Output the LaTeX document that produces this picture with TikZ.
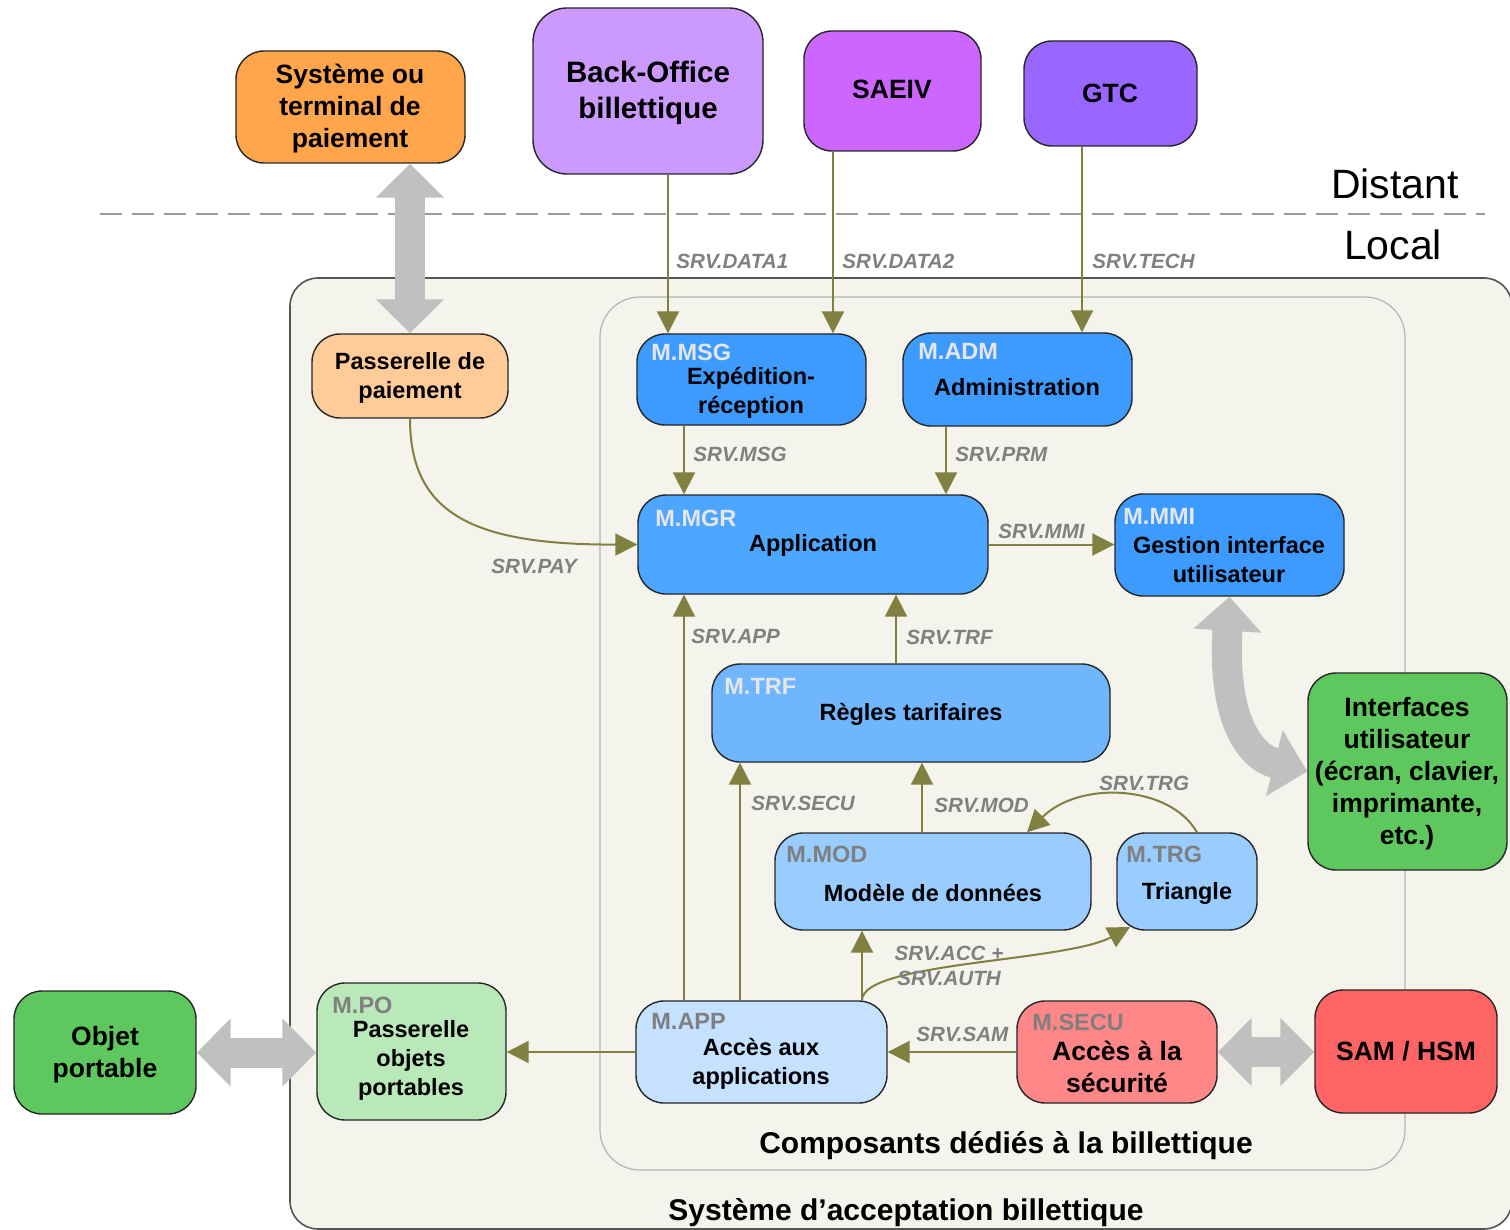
\documentclass[tikz,border=0pt]{standalone}
\usepackage{fontspec}
\setmainfont{Liberation Sans}
\usetikzlibrary{arrows.meta,fit}

\definecolor{cOrange}{HTML}{FFA64D}
\definecolor{cBackOffice}{HTML}{CC99FF}
\definecolor{cSaeiv}{HTML}{CC66FF}
\definecolor{cGtc}{HTML}{9966FF}
\definecolor{cPayGw}{HTML}{FFCC99}
\definecolor{cBlueA}{HTML}{3D9BFF}
\definecolor{cBlueB}{HTML}{4DA6FF}
\definecolor{cBlueC}{HTML}{70B6FF}
\definecolor{cBlueD}{HTML}{99CCFF}
\definecolor{cBlueE}{HTML}{C4E1FF}
\definecolor{cGreen}{HTML}{5EC85E}
\definecolor{cGreenLight}{HTML}{B9E8B9}
\definecolor{cRedLight}{HTML}{FF8787}
\definecolor{cRed}{HTML}{FF6464}
\definecolor{cBg}{HTML}{F4F3EC}
\definecolor{cOuter}{HTML}{555555}
\definecolor{cInner}{HTML}{B3B3B3}
\definecolor{cDash}{HTML}{999999}
\definecolor{cFlow}{HTML}{808040}
\definecolor{cSrv}{HTML}{808080}
\definecolor{cLabLight}{HTML}{E6E6E6}
\definecolor{cLabDark}{HTML}{7F7F7F}
\definecolor{cBigArrow}{HTML}{C0C0C0}

\tikzset{
  box/.style={draw=black!85, line width=0.7pt, rounded corners=14pt, inner sep=0pt},
  flow/.style={draw=cFlow, line width=1pt, -{Triangle[width=11pt,length=11pt]}},
  bigarrow/.style={draw=cBigArrow, line width=15pt,
    {Triangle[width=33pt,length=17pt]}-{Triangle[width=33pt,length=17pt]}},
  srv/.style={text=cSrv, font=\fontsize{10.3}{12.5}\selectfont\bfseries\itshape, anchor=west, inner sep=0pt},
  mlab/.style={font=\fontsize{11.75}{14}\selectfont\bfseries, anchor=west, inner sep=0pt},
  mlablight/.style={mlab, text=cLabLight},
  mlabdark/.style={mlab, text=cLabDark},
  modtxt/.style={font=\fontsize{11.75}{14.5}\selectfont\bfseries, align=center, inner sep=0pt, yshift=-1pt},
  medtxt/.style={font=\fontsize{13.25}{16}\selectfont\bfseries, align=center, inner sep=0pt, yshift=-1.25pt},
  bigtxt/.style={font=\fontsize{14.75}{18}\selectfont\bfseries, align=center, inner sep=0pt, yshift=-1.5pt},
  titletxt/.style={font=\fontsize{15}{18}\selectfont\bfseries, inner sep=0pt, yshift=-1.5pt},
  zonetxt/.style={font=\fontsize{20.5}{24}\selectfont, inner sep=0pt},
}

\begin{document}
\begin{tikzpicture}[x=0.5pt, y=-0.5pt]
\useasboundingbox (0,0) rectangle (1510,1230);

% containers
\begin{scope}
  \clip (0,0) rectangle (1510,1230);
  \draw[fill=cBg, draw=cOuter, line width=0.8pt, rounded corners=14pt] (290,278) rectangle (1512,1229);
\end{scope}
\draw[fill=cBg, draw=cInner, line width=0.6pt, rounded corners=20pt] (600,297) rectangle (1405,1170);

% distant / local separation
\draw[draw=cDash, line width=1.3pt, dash pattern=on 11pt off 5pt] (100,214) -- (1485,214);
\node[zonetxt] (distant) at (1395,184) {Distant};
\node[zonetxt] (local) at (1393,245) {Local};

% boxes
\node[box, fill=cOrange, fit={(236,51) (465,163)}] (sys) {};
\node[box, fill=cBackOffice, rounded corners=17pt, fit={(533,8) (763,174)}] (bo) {};
\node[box, fill=cSaeiv, fit={(804,31) (981,151)}] (saeiv) {};
\node[box, fill=cGtc, fit={(1024,41) (1197,146)}] (gtc) {};
\node[box, fill=cPayGw, fit={(312,334) (508,418)}] (pp) {};
\node[box, fill=cBlueA, fit={(637,334) (866,425)}] (msg) {};
\node[box, fill=cBlueA, fit={(903,333) (1132,426)}] (adm) {};
\node[box, fill=cBlueB, fit={(638,495) (988,594)}] (mgr) {};
\node[box, fill=cBlueA, fit={(1115,494) (1344,596)}] (mmi) {};
\node[box, fill=cBlueC, fit={(712,664) (1110,762)}] (trf) {};
\node[box, fill=cBlueD, fit={(775,833) (1091,930)}] (mod) {};
\node[box, fill=cBlueD, fit={(1117,833) (1257,930)}] (trg) {};
\node[box, fill=cGreen, fit={(1308,673) (1507,870)}] (ui) {};
\node[box, fill=cBlueE, fit={(636,1001) (887,1103)}] (app) {};
\node[box, fill=cGreenLight, fit={(317,983) (506,1120)}] (po) {};
\node[box, fill=cRedLight, fit={(1017,1001) (1217,1103)}] (secu) {};
\node[box, fill=cRed, fit={(1315,990) (1497,1113)}] (sam) {};
\node[box, fill=cGreen, fit={(14,991) (196,1114)}] (obj) {};

% wide grey exchange arrows
\draw[bigarrow] (pp.north |- sys.south) -- (pp.north);
\draw[bigarrow] (obj.east) -- (po.west |- obj.east);
\draw[bigarrow] (secu.east) -- (sam.west |- secu.east);
\draw[bigarrow] (mmi.south) .. controls (1222,720) and (1250,757) .. (ui.west);

% service connectors
\coordinate (trgin) at (1130,927);
\draw[flow] (bo.south -| 668,0) -- (msg.north -| 668,0);
\draw[flow] (saeiv.south -| 833,0) -- (msg.north -| 833,0);
\draw[flow] (gtc.south -| 1082,0) -- (adm.north -| 1082,0);
\draw[flow] (msg.south -| 684,0) -- (mgr.north -| 684,0);
\draw[flow] (adm.south -| 946,0) -- (mgr.north -| 946,0);
\draw[flow] (pp.south) .. controls (410,515) and (475,545) .. (mgr.west);
\draw[flow] (mgr.east) -- (mmi.west |- mgr.east);
\draw[flow] (app.north -| 684,0) -- (mgr.south -| 684,0);
\draw[flow] (trf.north -| 896,0) -- (mgr.south -| 896,0);
\draw[flow] (app.north -| 740,0) -- (trf.south -| 740,0);
\draw[flow] (mod.north -| 922,0) -- (trf.south -| 922,0);
\draw[flow] (trg.north -| 1197,0) .. controls (1170,785) and (1080,780) .. (mod.north -| 1027,0);
\draw[flow] (app.north -| 862,0) -- (mod.south -| 862,0);
\draw[flow] (app.north -| 862,0) .. controls (862,962) and (1065,962) .. (trgin);
\draw[flow] (app.west) -- (po.east |- app.west);
\draw[flow] (secu.west) -- (app.east);

% service labels
\node[srv] (lData1) at (676,261) {SRV.DATA1};
\node[srv] (lData2) at (842,261) {SRV.DATA2};
\node[srv] (lTech) at (1092,261) {SRV.TECH};
\node[srv] (lMsg) at (693,454) {SRV.MSG};
\node[srv] (lPrm) at (955,454) {SRV.PRM};
\node[srv] (lPay) at (491,566) {SRV.PAY};
\node[srv] (lMmi) at (998,531) {SRV.MMI};
\node[srv] (lApp) at (691,636) {SRV.APP};
\node[srv] (lTrf) at (906,637) {SRV.TRF};
\node[srv] (lSecu) at (751,803) {SRV.SECU};
\node[srv] (lMod) at (934,805) {SRV.MOD};
\node[srv] (lTrg) at (1099,783) {SRV.TRG};
\node[srv] (lSam) at (916,1034) {SRV.SAM};
\node[srv, anchor=center, align=center] (lAcc) at (949,966) {SRV.ACC +\\SRV.AUTH};

% module identifiers
\node[mlablight] (idMsg) at (651,352) {M.MSG};
\node[mlablight] (idAdm) at (918,351) {M.ADM};
\node[mlablight] (idMgr) at (655,518) {M.MGR};
\node[mlablight] (idMmi) at (1123,516) {M.MMI};
\node[mlablight] (idTrf) at (724,686) {M.TRF};
\node[mlabdark] (idMod) at (786,854) {M.MOD};
\node[mlabdark] (idTrg) at (1126,854) {M.TRG};
\node[mlabdark] (idApp) at (651,1021) {M.APP};
\node[mlabdark] (idPo) at (332,1005) {M.PO};
\node[mlabdark] (idSecu) at (1032,1022) {M.SECU};

% box texts
\node[medtxt] (tSys) at (350,106) {Système ou\\terminal de\\paiement};
\node[bigtxt] (tBo) at (648,90) {Back-Office\\billettique};
\node[medtxt] (tSaeiv) at (892,87) {SAEIV};
\node[medtxt] (tGtc) at (1110,91) {GTC};
\node[modtxt] (tPp) at (410,376) {Passerelle de\\paiement};
\node[modtxt] (tMsg) at (751,391) {Expédition-\\réception};
\node[modtxt] (tAdm) at (1017,385) {Administration};
\node[modtxt] (tMgr) at (813,543) {Application};
\node[modtxt] (tMmi) at (1229,558) {Gestion interface\\utilisateur};
\node[modtxt] (tTrf) at (911,712) {Règles tarifaires};
\node[modtxt] (tMod) at (933,891) {Modèle de données};
\node[modtxt] (tTrg) at (1187,891) {Triangle};
\node[medtxt] (tUi) at (1407,771) {Interfaces\\utilisateur\\(écran, clavier,\\imprimante,\\etc.)};
\node[modtxt] (tApp) at (761,1062) {Accès aux\\applications};
\node[modtxt] (tPo) at (411,1058) {Passerelle\\objets\\portables};
\node[medtxt] (tSecu) at (1117,1064) {Accès à la\\sécurité};
\node[medtxt] (tSam) at (1406,1049) {SAM / HSM};
\node[medtxt] (tObj) at (105,1052) {Objet\\portable};

% container titles
\node[titletxt] (tInner) at (1006,1143) {Composants dédiés à la billettique};
\node[titletxt] (tOuter) at (906,1210) {Système d’acceptation billettique};
\end{tikzpicture}
\end{document}
